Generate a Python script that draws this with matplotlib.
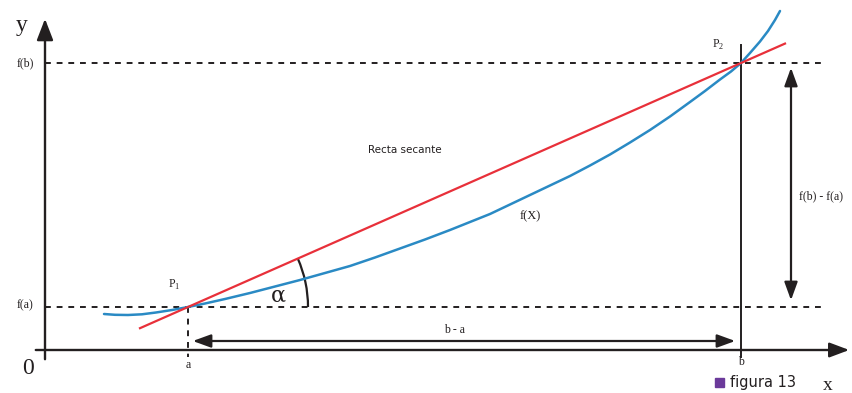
import numpy as np
import matplotlib.pyplot as plt
from matplotlib.patches import Arc, Rectangle

# geometry (pixel units, y grows downward)
a_x, b_x = 188, 741
fa_y, fb_y = 307, 63
axis_x, axis_y = 45, 350

curve_x = [104, 115, 128, 142, 156, 172, 188, 205, 225, 250, 275, 300,
           325, 350, 375, 400, 425, 450, 475, 490, 510, 530, 550, 570,
           590, 610, 630, 650, 670, 690, 705, 720, 731, 741, 750, 760,
           768, 775, 780]
curve_y = [314, 314.8, 315, 314.3, 312.5, 310, 307, 303.5, 299, 293, 286.5, 280,
           273, 266, 257.5, 248.5, 239.5, 230, 220, 214, 204.5, 195, 185.5, 176,
           165.5, 154.5, 142.5, 130, 116.5, 102, 91, 79.5, 71.5, 63, 53, 41.5,
           31, 20, 11]

secant_x = [140, 785]

red = '#e8303a'
blue = '#2a8ac4'
ink = '#231f20'

fig = plt.figure(figsize=(8.52, 3.93), dpi=100)
ax = fig.add_axes([0, 0, 1, 1])
ax.set_xlim(0, 852)
ax.set_ylim(393, 0)
ax.axis('off')

# axes with arrows
ax.annotate('', xy=(852, axis_y), xytext=(33, axis_y),
            arrowprops=dict(arrowstyle='-|>,head_length=1.2,head_width=0.45', color=ink, lw=1.7))
ax.annotate('', xy=(axis_x, 16), xytext=(axis_x, 362),
            arrowprops=dict(arrowstyle='-|>,head_length=1.3,head_width=0.5', color=ink, lw=1.7))

# dashed levels
ax.plot([axis_x, 825], [fb_y, fb_y], color=ink, lw=1.4, ls=(0, (3, 3)))
ax.plot([axis_x, 825], [fa_y, fa_y], color=ink, lw=1.4, ls=(0, (3, 3)))
ax.plot([a_x, a_x], [fa_y, 357], color=ink, lw=1.4, ls=(0, (3, 3)))
ax.plot([b_x, b_x], [45, 357], color=ink, lw=1.4)

# curve and secant
ax.plot(curve_x, curve_y, color=blue, lw=1.8, solid_capstyle='round')
slope = (fb_y - fa_y) / (b_x - a_x)
sec_y = [fa_y + slope * (x - a_x) for x in secant_x]
ax.plot(secant_x, sec_y, color=red, lw=1.6)

# angle arc
ang = np.degrees(np.arctan(-slope))
ax.add_patch(Arc((a_x, fa_y), 240, 240, theta1=-ang, theta2=0, color=ink, lw=1.6))
ax.text(278, 296, 'α', fontsize=16, family='DejaVu Serif', ha='center', va='center', color=ink)

# double arrows
ax.annotate('', xy=(190, 341), xytext=(738, 341),
            arrowprops=dict(arrowstyle='<|-|>,head_length=1.1,head_width=0.4', color=ink, lw=1.6))
ax.annotate('', xy=(791, 65), xytext=(791, 303),
            arrowprops=dict(arrowstyle='<|-|>,head_length=1.1,head_width=0.4', color=ink, lw=1.6))

serif = 'Liberation Serif'
ax.text(455, 330, 'b - a', fontsize=8.5, family=serif, ha='center', va='center', color=ink)
ax.text(799, 196, 'f(b) - f(a)', fontsize=8.5, family=serif, ha='left', va='center', color=ink)
ax.text(25, 63, 'f(b)', fontsize=8.5, family=serif, ha='center', va='center', color=ink)
ax.text(25, 305, 'f(a)', fontsize=8.5, family=serif, ha='center', va='center', color=ink)
ax.text(188, 365, 'a', fontsize=8.5, family=serif, ha='center', va='center', color=ink)
ax.text(741, 362, 'b', fontsize=8.5, family=serif, ha='center', va='center', color=ink)
ax.text(174, 285, r'P$_{\mathregular{1}}$', fontsize=8.5, family=serif, ha='center', va='center', color=ink)
ax.text(718, 45, r'P$_{\mathregular{2}}$', fontsize=8.5, family=serif, ha='center', va='center', color=ink)
ax.text(530, 216, 'f(X)', fontsize=9, family=serif, ha='center', va='center', color=ink)
ax.text(405, 150, 'Recta secante', fontsize=7.5, family='DejaVu Sans', ha='center', va='center', color=ink)
ax.text(22, 25, 'y', fontsize=17, family=serif, ha='center', va='center', color=ink)
ax.text(28, 368, '0', fontsize=17, family=serif, ha='center', va='center', color=ink)
ax.text(828, 385, 'x', fontsize=14, family=serif, ha='center', va='center', color=ink)
ax.add_patch(Rectangle((715, 378), 9, 9, color='#6b3a9a'))
ax.text(730, 383, 'figura 13', fontsize=10.5, family='DejaVu Sans', ha='left', va='center', color=ink)

fig.savefig('out.png', dpi=100)
